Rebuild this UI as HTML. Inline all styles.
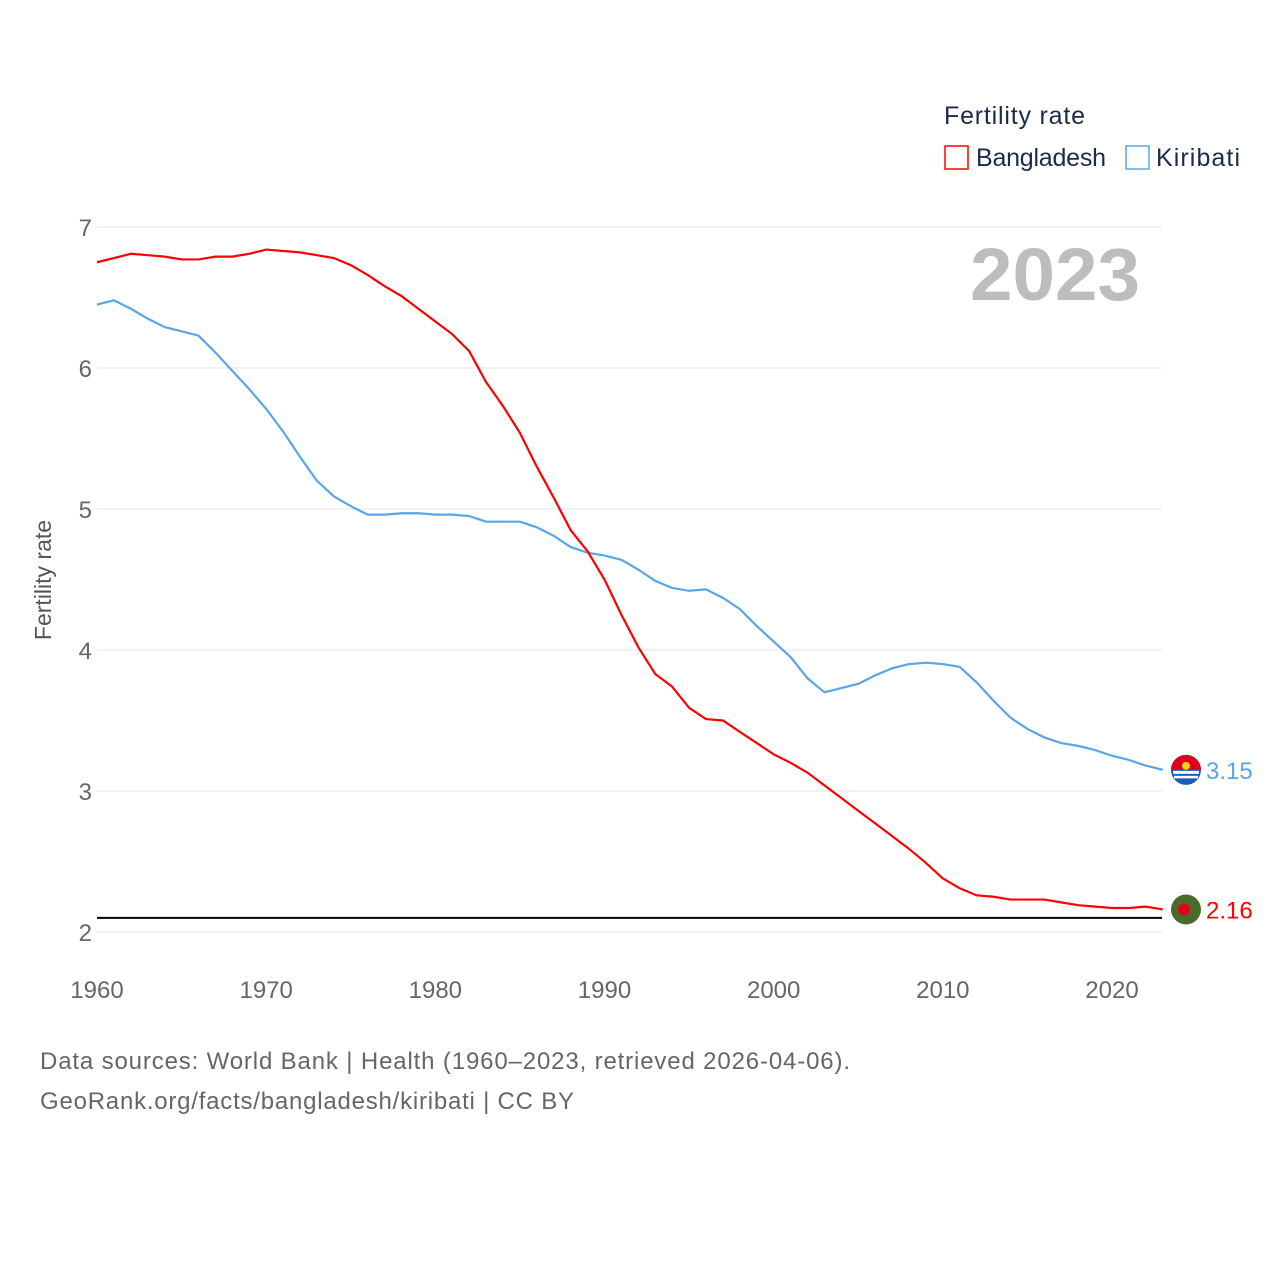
<!DOCTYPE html>
<html><head><meta charset="utf-8"><style>
body{margin:0;background:#fff;font-family:"Liberation Sans",sans-serif;}
svg text{font-family:"Liberation Sans",sans-serif;}
</style></head><body>
<svg id="chart" width="1280" height="1280" viewBox="0 0 1280 1280">
<text x="944" y="124" font-size="25" fill="#1a2b4a" textLength="141">Fertility rate</text>
<g><rect x="945" y="146" width="23" height="23" fill="none" stroke="#f00" stroke-width="1.5"/><text x="976" y="166" font-size="25" fill="#1a2b4a" textLength="130">Bangladesh</text></g>
<g><rect x="1126" y="146" width="23" height="23" fill="none" stroke="#5aa5ea" stroke-width="1.5"/><text x="1156" y="166" font-size="25" fill="#1a2b4a" textLength="84">Kiribati</text></g>
<text x="970" y="300" font-size="74" font-weight="bold" fill="#bdbdbd" textLength="170" lengthAdjust="spacingAndGlyphs">2023</text>
<text transform="translate(51,580) rotate(-90)" font-size="23" fill="#555" text-anchor="middle">Fertility rate</text>
<g id="grid"></g><g id="series"></g>
<text x="40" y="1069" font-size="24" fill="#666" textLength="810">Data sources: World Bank | Health (1960–2023, retrieved 2026-04-06).</text>
<text x="40" y="1109" font-size="24" fill="#666" textLength="534">GeoRank.org/facts/bangladesh/kiribati | CC BY</text>
</svg>
<script>
const years=[];for(let y=1960;y<=2023;y++)years.push(y);
const bangladesh=[6.75,6.78,6.81,6.80,6.79,6.77,6.77,6.79,6.79,6.81,6.84,6.83,6.82,6.80,6.78,6.73,6.66,6.58,6.51,6.42,6.33,6.24,6.12,5.90,5.73,5.54,5.30,5.08,4.85,4.70,4.50,4.25,4.02,3.83,3.74,3.59,3.51,3.50,3.42,3.34,3.26,3.20,3.13,3.04,2.95,2.86,2.77,2.68,2.59,2.49,2.38,2.31,2.26,2.25,2.23,2.23,2.23,2.21,2.19,2.18,2.17,2.17,2.18,2.16];
const kiribati=[6.45,6.48,6.42,6.35,6.29,6.26,6.23,6.11,5.98,5.85,5.71,5.55,5.37,5.20,5.09,5.02,4.96,4.96,4.97,4.97,4.96,4.96,4.95,4.91,4.91,4.91,4.87,4.81,4.73,4.69,4.67,4.64,4.57,4.49,4.44,4.42,4.43,4.37,4.29,4.17,4.06,3.95,3.80,3.70,3.73,3.76,3.82,3.87,3.90,3.91,3.90,3.88,3.77,3.64,3.52,3.44,3.38,3.34,3.32,3.29,3.25,3.22,3.18,3.15];
const yTicks=[2,3,4,5,6,7];
const xTicks=[1960,1970,1980,1990,2000,2010,2020];
const refLine=2.1;
const X=y=>97+(y-1960)*(1112-97)/60;
const Y=v=>932-(v-2)*141;
const NS="http://www.w3.org/2000/svg";
const grid=document.getElementById('grid'),ser=document.getElementById('series');
function mk(tag,attrs,parent,txt){const e=document.createElementNS(NS,tag);for(const k in attrs)e.setAttribute(k,attrs[k]);if(txt!=null)e.textContent=txt;parent.appendChild(e);return e;}
yTicks.forEach(t=>{
const l=mk('line',{x1:97,x2:1162,y1:Y(t),y2:Y(t),stroke:'#e6e6e6','stroke-width':1},grid);


const tx=mk('text',{x:92,y:Y(t)+9,'font-size':24,fill:'#666','text-anchor':'end'},grid,t);


});
xTicks.forEach(t=>{
const tx=mk('text',{x:X(t),y:998,'font-size':24,fill:'#666','text-anchor':'middle'},grid,t);


});
const rl=mk('line',{x1:97,x2:1162,y1:Y(refLine),y2:Y(refLine),stroke:'#000','stroke-width':2},grid);


function line(data,color,name){
const p=mk('polyline',{points:data.map((v,i)=>X(years[i])+','+Y(v)).join(' '),fill:'none',stroke:color,'stroke-width':2.2},ser);


}
line(kiribati,'#5aa5ea','kiribati');
line(bangladesh,'#f00','bangladesh');
const lastK=kiribati[kiribati.length-1],lastB=bangladesh[bangladesh.length-1];
const g1=mk('g',{},ser);


mk('circle',{cx:1186,cy:Y(lastK),r:15,fill:'#1e5bb8'},g1);
mk('path',{d:`M1171 ${Y(lastK)} A15 15 0 0 1 1201 ${Y(lastK)} Z`,fill:'#e0001b'},g1);
mk('rect',{x:1173,y:Y(lastK)+1,width:26,height:3,fill:'#fff'},g1);
mk('rect',{x:1174,y:Y(lastK)+6,width:24,height:2.5,fill:'#fff'},g1);
mk('circle',{cx:1186,cy:Y(lastK)-4,r:4,fill:'#fcd116'},g1);
const t1=mk('text',{x:1206,y:Y(lastK)+9,'font-size':24,fill:'#5aa5ea'},ser,lastK.toFixed(2));


const g2=mk('g',{},ser);


mk('circle',{cx:1186,cy:Y(lastB),r:15,fill:'#4a6b2a'},g2);
mk('circle',{cx:1184,cy:Y(lastB),r:6,fill:'#e0001b'},g2);
const t2=mk('text',{x:1206,y:Y(lastB)+9,'font-size':24,fill:'#f00'},ser,lastB.toFixed(2));


</script>
</body></html>
